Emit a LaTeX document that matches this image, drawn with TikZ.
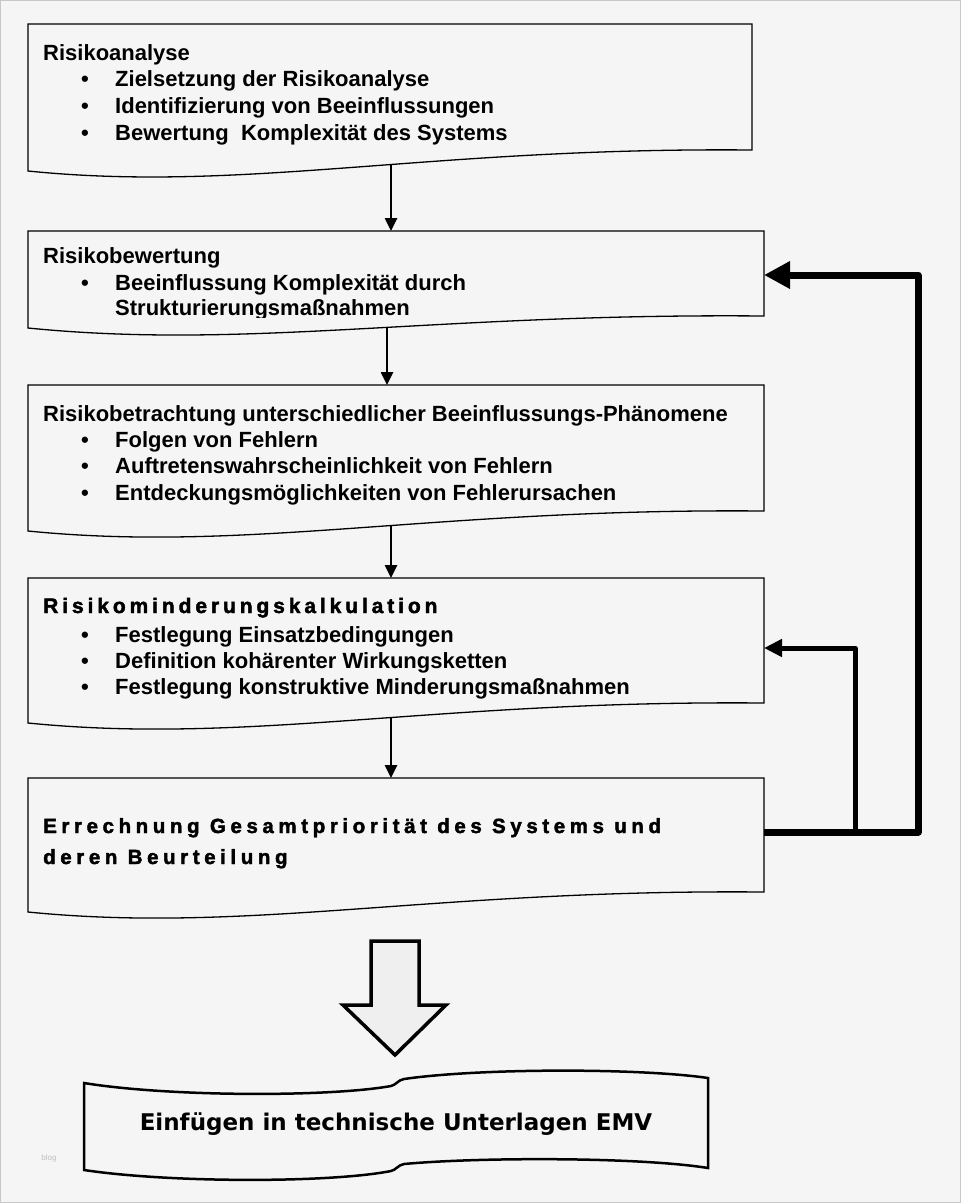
\documentclass[tikz,border=0pt]{standalone}
\usepackage{fontspec}
\setmainfont{Liberation Sans}
\newfontfamily\heavyfont{DejaVu Sans}
\newfontface\blackfont[FakeBold=2]{Liberation Sans Bold}
\usetikzlibrary{arrows.meta}
\definecolor{paper}{HTML}{F5F5F5}
\definecolor{frame}{HTML}{C8C8C8}
\definecolor{blockfill}{HTML}{EFEFEF}

% letter spacing by hand
\newdimen\letterkern
\def\spreadloop#1{\ifx#1\relax\else#1\kern\letterkern\expandafter\spreadloop\fi}
\newcommand\spread[1]{\spreadloop#1\relax}
\newcommand\widekern{\letterkern 4.6pt\relax}
\newcommand\headkern{\letterkern 3.9pt\relax}

\tikzset{
  boxline/.style={draw=black, line width=1.3pt, fill=paper},
  flow/.style={line width=2.5pt, -{Triangle[length=13pt,width=12pt]}},
  backflow/.style={line width=7pt, line join=round, -{Triangle[length=26pt,width=26pt]}},
  backflowthin/.style={line width=5pt, line join=round, -{Triangle[length=18pt,width=17pt]}},
  headline/.style={anchor=base west, inner sep=0pt, font=\fontsize{22}{26}\selectfont\bfseries},
  item/.style={anchor=base west, inner sep=0pt, font=\fontsize{22}{26}\selectfont\bfseries},
  bullet/.style={anchor=base, inner sep=0pt, font=\fontsize{22}{26}\selectfont\bfseries},
  spaced/.style={anchor=base west, inner sep=0pt, font=\fontsize{20.5}{26}\selectfont\blackfont\widekern},
}

% document shape: left, top, right, right bottom, left bottom
\newcommand\docbox[5]{%
  \draw[boxline] (#1,#2) -- (#3,#2) -- (#3,#4)
    .. controls ({#3-0.45*(#3-#1)},{#4-3}) and ({#1+0.3*(#3-#1)},{#5+22}) .. (#1,#5) -- cycle;}

\begin{document}
\begin{tikzpicture}[x=1pt, y=-1pt]
	\fill[paper] (0,0) rectangle (961,1203);
	\draw[frame, line width=1pt] (0.5,0.5) rectangle (960.5,1202.5);

	% arrow ends
	\coordinate (ana-out) at (391,165);
	\coordinate (bew-in) at (391,231);
	\coordinate (bew-out) at (387,320);
	\coordinate (betr-in) at (387,385);
	\coordinate (betr-out) at (391,515);
	\coordinate (mind-in) at (391,578);
	\coordinate (mind-out) at (391,708);
	\coordinate (err-in) at (391,778);

	\draw[flow] (ana-out) -- (bew-in);
	\draw[flow] (bew-out) -- (betr-in);
	\draw[flow] (betr-out) -- (mind-in);
	\draw[flow] (mind-out) -- (err-in);

	% boxes
	\docbox{28}{24}{752}{150}{171}
	\docbox{28}{231}{764}{316}{328}
	\docbox{28}{385}{764}{511}{531}
	\docbox{28}{578}{764}{703}{723}
	\docbox{28}{778}{764}{892}{912}

	% Risikoanalyse
	\node[headline] (ana) at (43,60) {Risikoanalyse};
	\foreach \txt [count=\i] in {Zielsetzung der Risikoanalyse, Identifizierung von Beeinflussungen, Bewertung~ Komplexität des Systems} {
		\node[bullet] (ana-b\i) at (85,{60+26.7*\i}) {\textbullet};
		\node[item] (ana-\i) at (115,{60+26.7*\i}) {\txt};
	}

	% Risikobewertung
	\node[headline] (bew) at (43,263) {Risikobewertung};
	\node[bullet] (bew-b1) at (85,290) {\textbullet};
	\node[item] (bew-1) at (115,290) {Beeinflussung Komplexität durch};
	\begin{scope}
		\clip (28,295) rectangle (764,317);
		\node[item] (bew-2) at (115,315) {Strukturierungsmaßnahmen};
	\end{scope}

	% Risikobetrachtung
	\node[headline] (betr) at (43,421) {Risikobetrachtung unterschiedlicher Beeinflussungs-Phänomene};
	\foreach \txt [count=\i] in {Folgen von Fehlern, Auftretenswahrscheinlichkeit von Fehlern, Entdeckungsmöglichkeiten von Fehlerursachen} {
		\node[bullet] (betr-b\i) at (85,{421+26.4*\i}) {\textbullet};
		\node[item] (betr-\i) at (115,{421+26.4*\i}) {\txt};
	}

	% Risikominderung
	\node[spaced, font=\fontsize{21}{26}\selectfont\blackfont\headkern] (mind) at (43,613) {\spread{Risikominderungskalkulation}};
	\foreach \txt [count=\i] in {Festlegung Einsatzbedingungen, Definition kohärenter Wirkungsketten, Festlegung konstruktive Minderungsmaßnahmen} {
		\node[bullet] (mind-b\i) at (85,{616+26.2*\i}) {\textbullet};
		\node[item] (mind-\i) at (115,{616+26.2*\i}) {\txt};
	}

	% Errechnung
	\node[spaced] (err-1) at (43,833) {\spread{Errechnung} \spread{Gesamtpriorität} \spread{des} \spread{Systems} \spread{und}};
	\node[spaced] (err-2) at (43,864) {\spread{deren} \spread{Beurteilung}};

	% feedback
	\coordinate (err-out) at (764,832);
	\coordinate (fork) at (855,832);
	\coordinate (bew-back) at (764,275);
	\coordinate (mind-back) at (764,648);
	\draw[backflow] (err-out) -- (918,832) |- (bew-back);
	\draw[backflowthin] (fork) |- (mind-back);

	% block arrow
	\draw[line width=3.5pt, line join=miter, fill=blockfill]
		(371,941) -- (419,941) -- (419,1005) -- (446,1005) -- (395,1055) -- (343,1005) -- (371,1005) -- cycle;
	\coordinate (emv-in) at (395,1055);

	% Unterlagen
	\draw[line width=2.5pt, fill=paper]
		(84,1083) .. controls (170,1097) and (330,1097) .. (391,1086)
		.. controls (396,1085) and (398,1080) .. (404,1079)
		.. controls (480,1068) and (640,1068) .. (708,1078)
		-- (708,1168)
		.. controls (640,1157) and (480,1157) .. (404,1164)
		.. controls (398,1165) and (396,1170) .. (391,1171)
		.. controls (330,1183) and (170,1183) .. (84,1170) -- cycle;
	\node[anchor=base, inner sep=0pt, font=\fontsize{23}{26}\selectfont\heavyfont\bfseries] (emv) at (396,1130) {Einfügen in technische Unterlagen EMV};

	\node[text=black!25, inner sep=0pt, font=\fontsize{8}{9}\selectfont] (mark) at (49,1158) {blog};
\end{tikzpicture}
\end{document}
